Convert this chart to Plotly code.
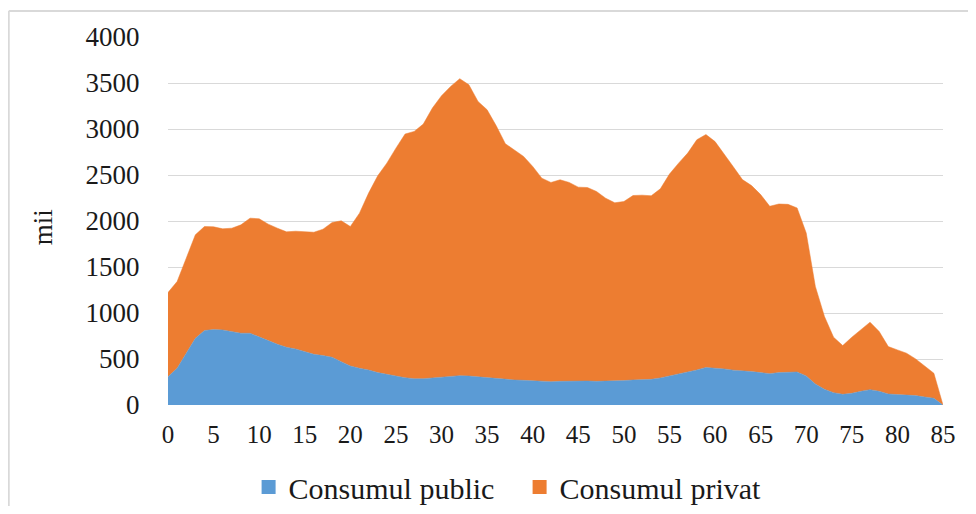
import plotly.graph_objects as go

ages = list(range(0, 86))

consum_public = [308, 399, 562, 725, 809, 820, 816, 794, 780, 780,
                 743, 700, 660, 627, 609, 580, 551, 537, 519, 471,
                 424, 399, 381, 352, 330, 315, 297, 286, 286, 294,
                 301, 310, 319, 315, 305, 297, 286, 279, 272, 268,
                 261, 257, 254, 257, 261, 261, 261, 257, 257, 257,
                 265, 272, 276, 279, 294, 315, 334, 355, 381, 408,
                 403, 392, 379, 367, 363, 352, 341, 352, 359, 359,
                 316, 229, 171, 134, 116, 127, 149, 167, 149, 120,
                 113, 109, 102, 87, 73, 0]

consum_privat = [915, 943, 1034, 1125, 1131, 1117, 1099, 1128, 1178, 1251,
                 1281, 1266, 1262, 1255, 1280, 1306, 1327, 1374, 1465, 1531,
                 1516, 1686, 1922, 2139, 2299, 2477, 2648, 2688, 2767, 2934,
                 3061, 3153, 3228, 3166, 2995, 2912, 2749, 2561, 2502, 2434,
                 2332, 2209, 2165, 2191, 2158, 2107, 2103, 2064, 1991, 1941,
                 1947, 2005, 2005, 1995, 2056, 2195, 2295, 2383, 2502, 2532,
                 2460, 2338, 2211, 2083, 2022, 1935, 1819, 1833, 1822, 1783,
                 1553, 1060, 791, 603, 530, 610, 668, 733, 650, 515,
                 486, 454, 399, 341, 272, 0]

series_names = ["Consumul public", "Consumul privat"]
colors = ["#5B9BD5", "#ED7D31"]
y_ticks = list(range(0, 4001, 500))
x_ticks = list(range(0, 86, 5))

FONT = "Liberation Serif, Times New Roman, serif"

fig = go.Figure()
for name, vals, col in zip(series_names, [consum_public, consum_privat], colors):
    fig.add_trace(go.Scatter(
        x=ages, y=vals, name=name, stackgroup="one", mode="lines",
        line=dict(width=0.5, color=col), fillcolor=col, showlegend=False,
        hoverinfo="x+y+name"))
# legend squares
for name, col in zip(series_names, colors):
    fig.add_trace(go.Scatter(
        x=[None], y=[None], name=name, mode="markers",
        marker=dict(symbol="square", size=14, color=col), showlegend=True))

fig.update_layout(
    width=960, height=498,
    margin=dict(l=160, r=25, t=29, b=101),
    paper_bgcolor="white", plot_bgcolor="white",
    font=dict(family=FONT, size=26, color="#1a1a1a"),
    xaxis=dict(range=[0, 85], tickvals=x_ticks, showgrid=False, zeroline=False,
               showline=False, ticks="outside", ticklen=7,
               tickcolor="rgba(0,0,0,0)", tickfont=dict(size=25)),
    yaxis=dict(range=[0, 4000], tickvals=y_ticks, showgrid=True,
               gridcolor="#d9d9d9", gridwidth=1.3, zeroline=False,
               showline=False, ticks="outside", ticklen=22,
               tickcolor="rgba(0,0,0,0)", tickfont=dict(size=27)),
    legend=dict(orientation="h", traceorder="normal",
                xref="paper", x=0.104, xanchor="left",
                yref="container", y=0.038, yanchor="middle",
                font=dict(size=30), entrywidth=226,
                entrywidthmode="pixels", itemclick=False),
    annotations=[dict(text="mii", xref="paper", yref="paper", x=-0.161, y=0.4837,
                      textangle=-90, showarrow=False, font=dict(size=27),
                      xanchor="center", yanchor="middle")],
    shapes=[
        dict(type="line", xref="paper", yref="paper", x0=-0.2055, x1=-0.2055,
             y0=1.0707, y1=-0.35, line=dict(color="#d9d9d9", width=2)),
        dict(type="line", xref="paper", yref="paper", x0=-0.2055, x1=1.1,
             y0=1.0707, y1=1.0707, line=dict(color="#d9d9d9", width=2)),
    ],
)

fig.write_html("out.html")
